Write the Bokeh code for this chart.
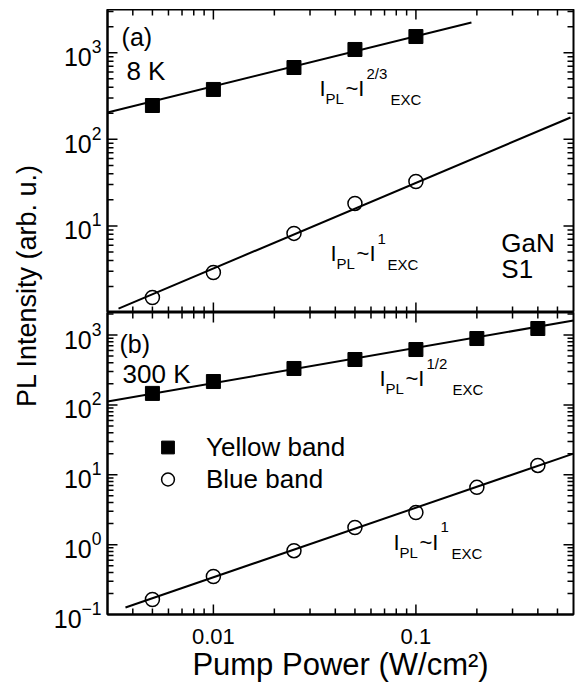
import math
import numpy as np
from bokeh.plotting import figure
from bokeh.models import (Range1d, FixedTicker, CustomJSTickFormatter,
                          Legend, LegendItem, ColumnDataSource, Label, Spacer)
from bokeh.layouts import row, column
from bokeh.embed import file_html
from bokeh.resources import INLINE
from bokeh.core.properties import value

FONT = "Liberation Sans"

# ---------------- data ----------------
power_8K = [0.005, 0.01, 0.025, 0.05, 0.1]
yellow_8K = [246, 377, 676, 1092, 1541]
blue_8K = [1.49, 2.9, 8.2, 18.2, 32.6]

power_300K = [0.005, 0.01, 0.025, 0.05, 0.1, 0.2, 0.4]
yellow_300K = [146, 216, 332, 446, 620, 891, 1239]
blue_300K = [0.164, 0.35, 0.82, 1.76, 2.88, 6.6, 13.6]

# power-law guide lines (end points)
fit_yellow_8K_x = [0.003, 0.188]
fit_yellow_8K_y = [204, 2240]
fit_blue_8K_x = [0.0034, 0.58]
fit_blue_8K_y = [1.11, 179]
fit_yellow_300K_x = [0.003, 0.6]
fit_yellow_300K_y = [112, 1613]
fit_blue_300K_x = [0.00368, 0.6]
fit_blue_300K_y = [0.126, 20.1]

# ticks
x_major = [0.01, 0.1]
x_minor = [0.004, 0.005, 0.006, 0.007, 0.008, 0.009,
           0.02, 0.03, 0.04, 0.05, 0.06, 0.07, 0.08, 0.09,
           0.2, 0.3, 0.4, 0.5]
y_major_8K = [10, 100, 1000]
y_minor_8K = [2, 3, 4, 5, 6, 7, 8, 9,
              20, 30, 40, 50, 60, 70, 80, 90,
              200, 300, 400, 500, 600, 700, 800, 900, 2000, 3000]
y_major_300K = [1, 10, 100, 1000]
y_label_ticks_300K = [0.1, 1, 10, 100, 1000]
y_minor_300K = [0.2, 0.3, 0.4, 0.5, 0.6, 0.7, 0.8, 0.9,
                2, 3, 4, 5, 6, 7, 8, 9,
                20, 30, 40, 50, 60, 70, 80, 90,
                200, 300, 400, 500, 600, 700, 800, 900, 2000]

x_lim = (0.003, 0.6)
y_lim_8K = (1, 3162)
y_lim_300K = (0.1, 2100)

# frame geometry (pixels)
FRAME_W = 466
TOP_H = 303
BOT_H = 302
BORDER_L = 57
BORDER_R = 8
TOP_GAP = 9
MAJ_LEN = 10
MIN_LEN = 6


def edge_ticks(p, ylim, ymaj, ymin, frame_h):
    """Inward tick marks on all four frame edges, drawn as one broken line."""
    ppd_x = FRAME_W / math.log10(x_lim[1] / x_lim[0])
    ppd_y = frame_h / math.log10(ylim[1] / ylim[0])
    xs, ys = [], []
    for ticks, L in ((ymaj, MAJ_LEN), (ymin, MIN_LEN)):
        f = 10 ** (L / ppd_x)
        for t in ticks:
            xs += [x_lim[0], x_lim[0] * f, np.nan, x_lim[1], x_lim[1] / f, np.nan]
            ys += [t, t, np.nan, t, t, np.nan]
    for ticks, L in ((x_major, MAJ_LEN), (x_minor, MIN_LEN)):
        f = 10 ** (L / ppd_y)
        for t in ticks:
            xs += [t, t, np.nan, t, t, np.nan]
            ys += [ylim[0], ylim[0] * f, np.nan, ylim[1], ylim[1] / f, np.nan]
    p.line(x=np.array(xs, dtype=float), y=np.array(ys, dtype=float),
           line_color="black", line_width=1.5)


def make_panel(frame_h, ylim, ylabels, bottom_border, xr, with_xaxis):
    p = figure(width=BORDER_L + FRAME_W + BORDER_R,
               height=frame_h + bottom_border,
               x_axis_type="log", y_axis_type="log",
               x_axis_location="below" if with_xaxis else None,
               x_range=xr, y_range=Range1d(*ylim),
               output_backend="svg", toolbar_location=None,
               min_border_left=BORDER_L, min_border_right=BORDER_R,
               min_border_top=0, min_border_bottom=bottom_border)
    p.grid.visible = False
    p.outline_line_color = "black"
    p.outline_line_width = 2
    ax_l = p.left[0]
    ax_l.ticker = FixedTicker(ticks=ylabels)
    ax_l.axis_line_width = 2
    ax_l.major_tick_in = 0
    ax_l.major_tick_out = 0
    ax_l.minor_tick_in = 0
    ax_l.minor_tick_out = 0
    ax_l.major_label_text_font = FONT
    ax_l.major_label_text_font_size = "25px"
    ax_l.major_label_text_color = "black"
    ax_l.major_label_standoff = 6
    # an invisible placeholder renderer drawn first
    p.line(x=[0.01, 0.02], y=[ylim[0] * 2, ylim[0] * 2], line_alpha=0)
    return p


def power_law(fig, x, y, exponent, exc_dx, main="22px", small="15px"):
    src = ColumnDataSource(dict(
        x=[x] * 5, y=[y] * 5,
        text=["I", "PL", "~I", exponent, "EXC"],
        dx=[0, 6, 26, 47, exc_dx],
        dy=[0, 10, 0, -15, 11],
        fs=[main, small, main, small, small]))
    fig.text("x", "y", text="text", x_offset="dx", y_offset="dy",
             text_font_size="fs", text_font=value(FONT),
             text_baseline="alphabetic", text_align="left",
             text_color="black", source=src)


def label(fig, x, y, txt, size="26px"):
    fig.text(x=[x], y=[y], text=[txt], text_font=value(FONT), text_font_size=size,
             text_baseline="alphabetic", text_align="left", text_color="black")


xr = Range1d(*x_lim)

# ---------------- top panel (a) 8 K ----------------
top = make_panel(TOP_H, y_lim_8K, y_major_8K, 0, xr, with_xaxis=False)
edge_ticks(top, y_lim_8K, y_major_8K, y_minor_8K, TOP_H)

top.line(fit_yellow_8K_x, fit_yellow_8K_y, line_width=2, line_color="black")
top.line(fit_blue_8K_x, fit_blue_8K_y, line_width=2, line_color="black")
top.scatter(power_8K, yellow_8K, marker="square", size=14,
            fill_color="black", line_color="black")
top.scatter(power_8K, blue_8K, marker="circle", size=14,
            fill_color=None, line_color="black", line_width=1.5)

label(top, 0.00352, 1541, "(a)", "25px")
label(top, 0.00372, 624, "8 K")
label(top, 0.264, 6.43, "GaN")
label(top, 0.264, 3.22, "S1")
power_law(top, 0.0334, 387, "2/3", 71)
power_law(top, 0.0379, 4.8, "1", 57)

# ---------------- bottom panel (b) 300 K ----------------
bot = make_panel(BOT_H, y_lim_300K, y_label_ticks_300K, 73, xr, with_xaxis=True)
edge_ticks(bot, y_lim_300K, y_major_300K, y_minor_300K, BOT_H)
bx = bot.below[0]
bx.ticker = FixedTicker(ticks=x_major)
bx.axis_line_width = 2
bx.major_tick_in = 0
bx.major_tick_out = 0
bx.minor_tick_in = 0
bx.minor_tick_out = 0
bx.major_label_text_font = FONT
bx.major_label_text_font_size = "22px"
bx.major_label_text_color = "black"
bx.formatter = CustomJSTickFormatter(code="return String(parseFloat(tick.toPrecision(3)))")
bx.major_label_standoff = 14
bx.axis_label = "Pump Power (W/cm²)"
bx.axis_label_text_font = FONT
bx.axis_label_text_font_size = "31px"
bx.axis_label_text_font_style = "normal"
bx.axis_label_text_color = "black"
bx.axis_label_standoff = 0

bot.line(fit_yellow_300K_x, fit_yellow_300K_y, line_width=2, line_color="black")
bot.line(fit_blue_300K_x, fit_blue_300K_y, line_width=2, line_color="black")
r_yellow = bot.scatter(power_300K, yellow_300K, marker="square", size=14,
                       fill_color="black", line_color="black")
r_blue = bot.scatter(power_300K, blue_300K, marker="circle", size=14,
                     fill_color=None, line_color="black", line_width=1.5)

label(bot, 0.00344, 755, "(b)", "25px")
label(bot, 0.00356, 281, "300 K")
power_law(bot, 0.0661, 238.5, "1/2", 73)
power_law(bot, 0.0775, 1.073, "1", 58)

legend = Legend(items=[LegendItem(label="Yellow band", renderers=[r_yellow]),
                       LegendItem(label="Blue band", renderers=[r_blue])],
                location=(43, 119), border_line_color=None,
                background_fill_alpha=0, padding=0, margin=0, spacing=0,
                glyph_width=35, glyph_height=32, label_standoff=21,
                label_text_font=FONT, label_text_font_size="26px",
                label_text_color="black")
bot.add_layout(legend)

# ---------------- y label strip ----------------
lab = figure(width=50, height=687, x_range=Range1d(0, 50), y_range=Range1d(0, 687),
             output_backend="svg", toolbar_location=None,
             min_border_left=0, min_border_right=0, min_border_top=0, min_border_bottom=0,
             x_axis_location=None, y_axis_location=None)
lab.outline_line_color = None
lab.grid.visible = False
lab.add_layout(Label(x=26, y=402, x_units="data", y_units="data",
                     text="PL Intensity (arb. u.)", angle=math.pi / 2,
                     text_align="center", text_baseline="middle", text_font=FONT,
                     text_font_size="27px", text_color="black"))

layout = row(lab, column(Spacer(width=BORDER_L + FRAME_W + BORDER_R, height=TOP_GAP), top, bot))
open("out.html", "w").write(file_html(layout, INLINE))
